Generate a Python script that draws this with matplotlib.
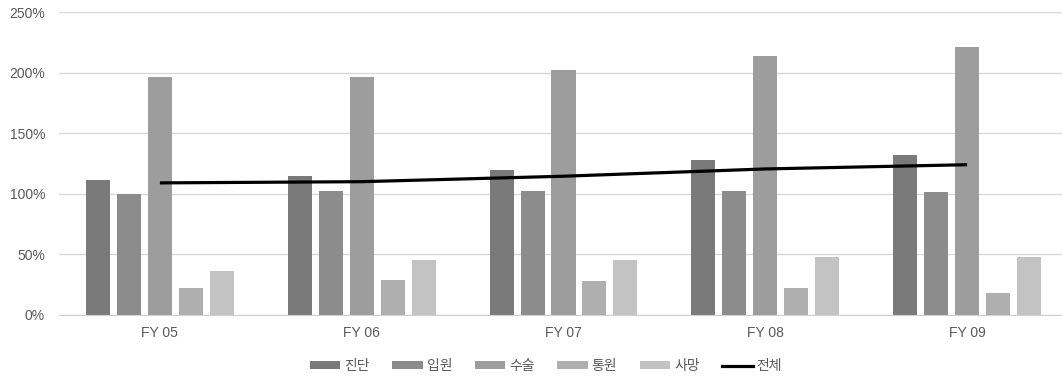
import numpy as np
import matplotlib
matplotlib.use('Agg')
import matplotlib.pyplot as plt
from matplotlib.patches import Patch
from matplotlib.lines import Line2D
from matplotlib.ticker import FuncFormatter

plt.rcParams['font.family'] = ['Liberation Sans', 'Noto Sans CJK KR', 'DejaVu Sans']

years = ['FY 05', 'FY 06', 'FY 07', 'FY 08', 'FY 09']
series_names = ['진단', '입원', '수술', '통원', '사망']
diag = [111, 115, 120, 128, 132]
admit = [100, 102, 102, 102.5, 101.5]
surgery = [196, 196, 202, 213.5, 221]
outpatient = [22.5, 29, 28, 22.5, 18.5]
death = [36.5, 45, 45, 48, 48]
total = [109, 110, 114.5, 120.5, 124]
line_name = '전체'

colors = ['#7a7a7a', '#8c8c8c', '#9d9d9d', '#afafaf', '#c3c3c3']
text_col = '#595959'

fig = plt.figure(figsize=(10.62, 3.77), dpi=100)
W, H = 1062, 377
ax = fig.add_axes([59 / W, 62 / H, 1009 / W, 303 / H])

x = np.arange(len(years))
pitch = 0.1535
width = 0.119
all_series = [diag, admit, surgery, outpatient, death]
for i, (vals, name) in enumerate(zip(all_series, series_names)):
    ax.bar(x + (i - 2) * pitch, vals, width, color=colors[i], label=name, zorder=2)

ax.plot(x, total, color='black', lw=2.3, zorder=3, solid_capstyle='butt')

ax.set_xlim(-0.5, len(years) - 0.5)
ax.set_ylim(0, 250)
ax.set_yticks(np.arange(0, 251, 50))
ax.yaxis.set_major_formatter(FuncFormatter(lambda v, p: f'{int(v)}%'))
ax.set_xticks(x)
ax.set_xticklabels(years)
ax.grid(axis='y', color='#d9d9d9', lw=1, zorder=0)
ax.set_axisbelow(True)
for s in ['top', 'right', 'left']:
    ax.spines[s].set_visible(False)
ax.spines['bottom'].set_color('#d0d0d0')
ax.tick_params(axis='both', length=0, labelsize=10, colors=text_col)
ax.tick_params(axis='x', pad=8)
ax.tick_params(axis='y', pad=10)

handles = [Patch(facecolor=c, label=n) for c, n in zip(colors, series_names)]
handles.append(Line2D([0], [0], color='black', lw=2.3, label=line_name))
fig.legend(handles=handles, loc='center', bbox_to_anchor=(546 / W, 1 - 366 / H),
           ncol=6, frameon=False, fontsize=10, labelcolor=text_col,
           handlelength=2.2, handleheight=0.45, handletextpad=0.3, columnspacing=1.6)

fig.savefig('out.png', dpi=100)
